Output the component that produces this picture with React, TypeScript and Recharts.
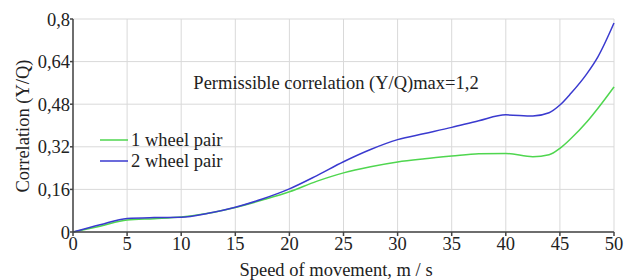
import { LineChart, Line, XAxis, YAxis, CartesianGrid } from 'recharts';

const speeds = [0, 2.5, 5, 7.5, 10, 12.5, 15, 17.5, 20, 22.5, 25, 27.5, 30, 32.5, 35, 37.5, 40, 42.5, 44, 45, 46, 47.5, 48.5, 50];
const pair1 = [0, 0.022, 0.045, 0.05, 0.056, 0.07, 0.092, 0.12, 0.151, 0.19, 0.222, 0.245, 0.263, 0.275, 0.285, 0.294, 0.295, 0.283, 0.29, 0.314, 0.35, 0.414, 0.464, 0.545];
const pair2 = [0, 0.027, 0.051, 0.054, 0.055, 0.07, 0.093, 0.124, 0.162, 0.211, 0.264, 0.31, 0.347, 0.37, 0.393, 0.418, 0.44, 0.436, 0.448, 0.477, 0.52, 0.595, 0.657, 0.785];
const xTicks = [0, 5, 10, 15, 20, 25, 30, 35, 40, 45, 50];
const yTicks = [0, 0.16, 0.32, 0.48, 0.64, 0.8];
const seriesNames = ['1 wheel pair', '2 wheel pair'];
const COLORS = ['#4fd64f', '#3a3acf'];

const data = speeds.map((s, i) => ({ speed: s, p1: pair1[i], p2: pair2[i] }));

const font = 'Liberation Serif';
const axisColor = '#444';
const textColor = '#222';

export default function App() {
  return (
    <div style={{ position: 'absolute', left: 0, top: 0, width: 634, height: 280, background: '#fff', overflow: 'hidden', fontFamily: font }}>
      <LineChart width={634} height={280} data={data} margin={{ top: 19, right: 20, bottom: 0, left: 0 }} style={{ fontFamily: font }}>
        <CartesianGrid stroke="#d9d9d9" strokeWidth={1} />
        <XAxis
          dataKey="speed"
          type="number"
          domain={[0, 50]}
          ticks={xTicks}
          height={48}
          interval={0}
          stroke={axisColor}
          strokeWidth={1.5}
          tickSize={4}
          tickMargin={1}
          tick={{ fill: textColor, fontSize: 18.5, fontFamily: font }}
        />
        <XAxis xAxisId="top" orientation="top" dataKey="speed" type="number" domain={[0, 50]} height={0} tick={false} tickLine={false} stroke={axisColor} strokeWidth={1.5} />
        <YAxis
          type="number"
          domain={[0, 0.8]}
          ticks={yTicks}
          interval={0}
          width={73}
          stroke={axisColor}
          strokeWidth={1.5}
          tickSize={3}
          tickMargin={0}
          tickFormatter={(v: number) => String(v).replace('.', ',')}
          tick={{ fill: textColor, fontSize: 18.5, fontFamily: font }}
        />
        <YAxis yAxisId="right" orientation="right" domain={[0, 0.8]} width={0} tick={false} tickLine={false} stroke={axisColor} strokeWidth={1.5} />
        <Line dataKey="p1" name={seriesNames[0]} type="monotone" stroke={COLORS[0]} strokeWidth={1.5} dot={false} isAnimationActive={false} />
        <Line dataKey="p2" name={seriesNames[1]} type="monotone" stroke={COLORS[1]} strokeWidth={1.5} dot={false} isAnimationActive={false} />
        {/* legend */}
        {seriesNames.map((name, i) => (
          <g key={name}>
            <line x1={100} x2={128} y1={140 + i * 21} y2={140 + i * 21} stroke={COLORS[i]} strokeWidth={1.5} />
            <text x={131} y={146 + i * 21} fontFamily={font} fontSize={18.5} fill={textColor}>
              {name}
            </text>
          </g>
        ))}
        <text x={336} y={89} textAnchor="middle" fontFamily={font} fontSize={18.5} fill={textColor}>
          Permissible correlation (Y/Q)max=1,2
        </text>
        <text x={336} y={276} textAnchor="middle" fontFamily={font} fontSize={18.5} fill={textColor}>
          Speed of movement, m / s
        </text>
        <text x={29} y={126} textAnchor="middle" fontFamily={font} fontSize={18.5} fill={textColor} transform="rotate(-90, 29, 126)">
          Correlation (Y/Q)
        </text>
      </LineChart>
    </div>
  );
}
